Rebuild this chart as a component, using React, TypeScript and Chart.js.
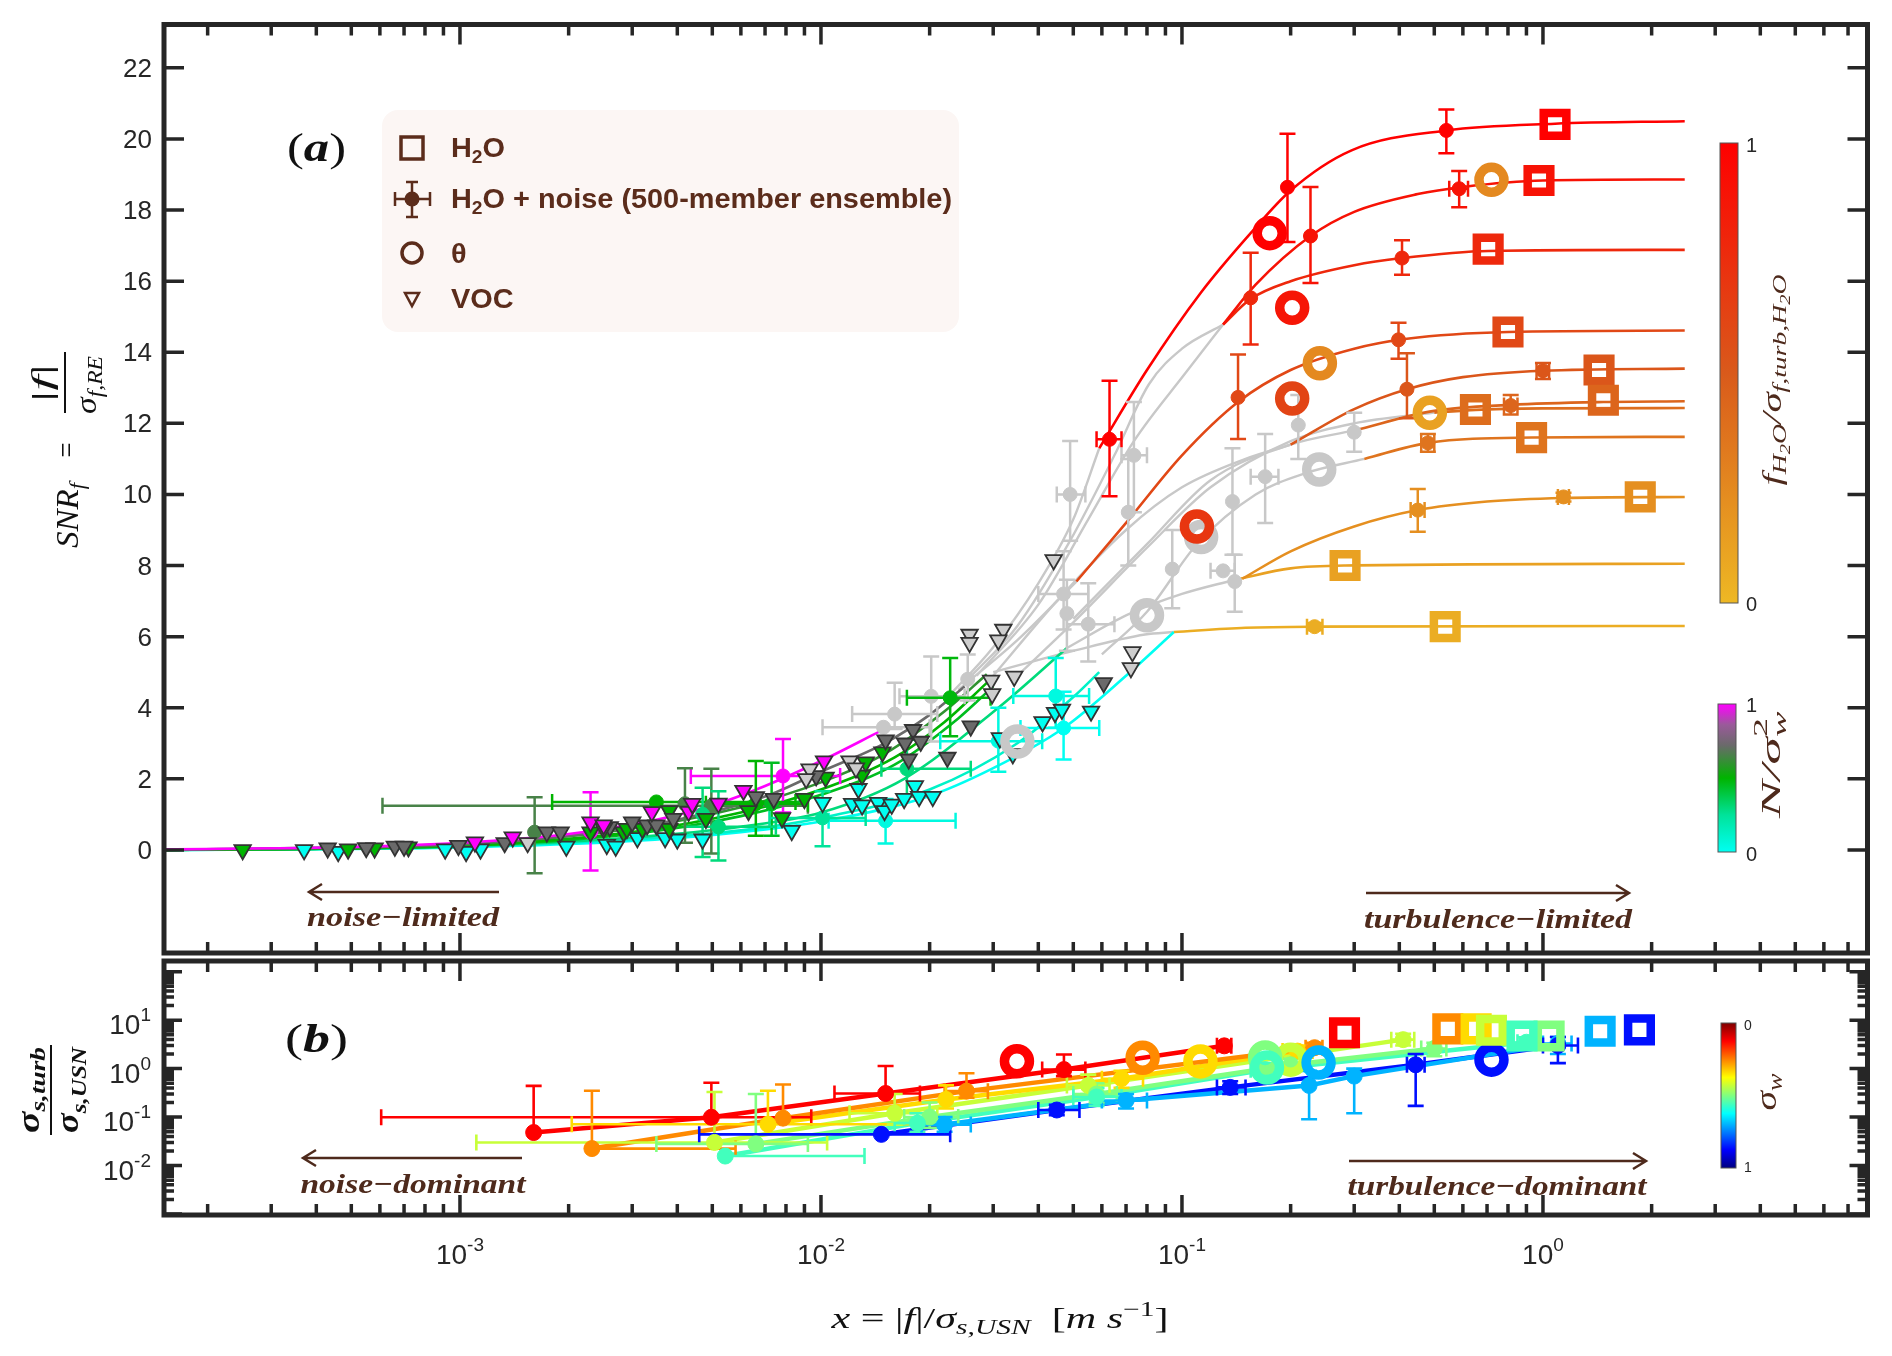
import React, { useEffect, useRef } from "react";
import { Chart, registerables } from "chart.js";

Chart.register(...registerables);

type XY = [number, number];
// [x, y, xlo, xhi, ylo, yhi, colour value]
type Err = [number, number, number | null, number | null, number | null, number | null, number | null];
// [x, y, colour value]
type Mark = [number, number, number | null];

const W = 1892;
const H = 1356;

// axes
const X_MIN = 1.514e-4;
const X_MAX = 7.925;
const YA_MIN = -2.9;
const YA_MAX = 23.22;
const YB_MIN = 9.55e-4;
const YB_MAX = 166;
const Y_TICKS_A = [0, 2, 4, 6, 8, 10, 12, 14, 16, 18, 20, 22];
const X_TICK_EXP = [-3, -2, -1, 0];
const YB_TICK_EXP = [-2, -1, 0, 1];

// ---------- panel (a): H2O fitted curves (colour = f_H2O / sigma_f,turb,H2O)
const H2O_C1: XY[] = [[0.059, 11.3], [0.08, 13.5], [0.1125, 15.66], [0.155, 17.35], [0.2, 18.55], [0.295, 19.68], [0.54, 20.24], [1.08, 20.43], [2.47, 20.5]];
const H2O_C2: XY[] = [[0.13, 14.78], [0.16, 15.9], [0.227, 17.27], [0.3, 17.95], [0.45, 18.45], [0.6, 18.65], [1.0, 18.83], [2.47, 18.86]];
const H2O_C3: XY[] = [[0.13, 14.78], [0.155, 15.5], [0.2, 16.0], [0.3, 16.45], [0.407, 16.65], [0.705, 16.85], [2.47, 16.88]];
const H2O_C4: XY[] = [[0.051, 7.55], [0.07, 9.2], [0.1, 11.1], [0.143, 12.6], [0.2, 13.5], [0.3, 14.1], [0.42, 14.38], [0.8, 14.57], [2.47, 14.61]];
const H2O_C5: XY[] = [[0.2, 11.4], [0.3, 12.4], [0.42, 12.96], [0.6, 13.3], [1.0, 13.48], [2.47, 13.54]];
const H2O_C6: XY[] = [[0.3, 11.8], [0.5, 12.35], [0.814, 12.52], [1.47, 12.6], [2.47, 12.62]];
const H2O_C7: XY[] = [[0.5, 12.3], [0.65, 12.38], [1.0, 12.42], [2.47, 12.43]];
const H2O_C8: XY[] = [[0.32, 11.0], [0.48, 11.45], [0.93, 11.6], [2.47, 11.62]];
const H2O_C9: XY[] = [[0.147, 7.63], [0.2, 8.4], [0.3, 9.1], [0.45, 9.56], [0.7, 9.8], [1.14, 9.9], [2.47, 9.93]];
const H2O_C10: XY[] = [[0.14, 7.6], [0.2, 7.92], [0.283, 8.0], [2.47, 8.05]];
const H2O_C11: XY[] = [[0.095, 6.13], [0.15, 6.25], [0.233, 6.28], [2.47, 6.3]];
const H2O_LEVEL = [1.0, 0.9, 0.78, 0.6, 0.52, 0.44, 0.4, 0.36, 0.22, 0.12, 0.06];

const H2O_SQUARES: Mark[] = [
  [1.08, 20.41, 1.0], [0.975, 18.83, 0.9], [0.705, 16.9, 0.78], [0.8, 14.57, 0.6], [1.43, 13.5, 0.52],
  [1.47, 12.65, 0.44], [0.65, 12.39, 0.4], [0.93, 11.6, 0.36], [1.86, 9.93, 0.22], [0.283, 8.0, 0.12], [0.536, 6.28, 0.06],
];

const H2O_NOISE: Err[] = [
  [0.063, 11.55, 0.058, 0.068, 9.95, 13.2, 1.0], [0.196, 18.64, null, null, 17.1, 20.15, 1.0], [0.54, 20.24, null, null, 19.6, 20.83, 1.0],
  [0.227, 17.27, null, null, 15.95, 18.65, 0.9], [0.586, 18.6, 0.55, 0.62, 18.08, 19.1, 0.9],
  [0.155, 15.53, null, null, 14.22, 16.8, 0.78], [0.407, 16.65, null, null, 16.18, 17.15, 0.78],
  [0.143, 12.73, null, null, 11.56, 13.94, 0.6], [0.398, 14.35, null, null, 13.82, 14.83, 0.6],
  [0.42, 12.96, null, null, 12.14, 13.97, 0.52], [1.0, 13.48, 0.96, 1.04, 13.25, 13.7, 0.52],
  [0.814, 12.5, 0.78, 0.85, 12.25, 12.8, 0.44], [0.48, 11.45, 0.46, 0.5, 11.2, 11.7, 0.36],
  [0.45, 9.56, 0.43, 0.47, 8.95, 10.15, 0.22], [1.14, 9.93, 1.1, 1.18, 9.8, 10.05, 0.22],
  [0.233, 6.28, 0.222, 0.245, 6.18, 6.38, 0.06],
];

const THETA_A: Mark[] = [
  [0.175, 17.35, 1.0], [0.202, 15.25, 0.88], [0.72, 18.85, 0.25], [0.241, 13.69, 0.25],
  [0.202, 12.7, 0.62], [0.486, 12.3, 0.12], [0.11, 9.1, 0.7],
];

// grey transition curves and grey points
const GRAY_C1: XY[] = [[0.022, 4.2], [0.03, 5.7], [0.04, 7.5], [0.05, 9.3], [0.059, 11.3]];
const GRAY_C2: XY[] = [[0.025, 4.7], [0.035, 6.3], [0.049, 8.7], [0.065, 11.1], [0.081, 13.1], [0.1, 14.1], [0.13, 14.78]];
const GRAY_C3: XY[] = [[0.027, 4.9], [0.04, 6.9], [0.055, 9.3], [0.0736, 11.5], [0.102, 13.4], [0.13, 14.78]];
const GRAY_C4: XY[] = [[0.024, 4.5], [0.035, 5.9], [0.051, 7.55]];
const GRAY_C5: XY[] = [[0.03, 4.9], [0.045, 7.0], [0.07, 9.0], [0.1, 10.2], [0.15, 11.0], [0.2, 11.4]];
const GRAY_C6: XY[] = [[0.035, 4.9], [0.05, 6.4], [0.08, 8.5], [0.12, 10.2], [0.2, 11.5], [0.3, 12.0], [0.5, 12.3]];
const GRAY_C7: XY[] = [[0.03, 5.0], [0.05, 5.6], [0.079, 6.06], [0.095, 6.13]];
const GRAY_C8: XY[] = [[0.048, 5.68], [0.07, 6.6], [0.1, 7.2], [0.14, 7.6]];
const GRAY_C9: XY[] = [[0.06, 5.5], [0.08, 6.7], [0.11, 8.6], [0.16, 10.0], [0.22, 10.6], [0.32, 11.0]];
const GRAY_C10: XY[] = [[0.05, 6.5], [0.08, 8.6], [0.12, 10.4], [0.2, 11.4], [0.3, 11.8]];

const GRAY_NOISE: Err[] = [
  [0.049, 10.0, 0.045, 0.054, 8.7, 11.5, null], [0.0736, 11.1, 0.068, 0.08, 9.5, 12.6, null], [0.071, 9.5, null, null, 8.0, 11.0, null],
  [0.047, 7.2, 0.04, 0.055, 6.2, 8.4, null], [0.048, 6.65, null, null, 5.6, 7.6, null], [0.055, 6.35, 0.048, 0.065, 5.3, 7.5, null],
  [0.094, 7.9, null, null, 6.8, 9.0, null], [0.138, 9.8, null, null, 8.3, 11.3, null], [0.17, 10.5, 0.155, 0.185, 9.2, 11.7, null],
  [0.21, 11.95, null, null, 11.0, 12.8, null], [0.3, 11.75, null, null, 11.2, 12.3, null], [0.14, 7.55, null, null, 6.7, 8.3, null],
  [0.13, 7.85, 0.12, 0.14, null, null, null], [0.0202, 4.32, 0.0165, 0.025, 3.05, 5.44, null], [0.016, 3.82, 0.0122, 0.021, 3.4, 4.7, null],
  [0.0149, 3.45, 0.0101, 0.02, null, null, null], [0.0255, 4.8, null, null, 4.2, 5.5, null],
];
const GRAY_THETA: Mark[] = [[0.035, 3.05, null], [0.08, 6.6, null], [0.113, 8.8, null], [0.24, 10.7, null]];

// VOC curves (colour = N / sigma_w^2)
const VOC_C1: XY[] = [[1.514e-4, 0.02], [5e-4, 0.08], [1e-3, 0.2], [2e-3, 0.45], [3.5e-3, 0.85], [5e-3, 1.25], [7e-3, 1.8], [0.01, 2.5], [0.0146, 3.34]];
const VOC_C2: XY[] = [[1.514e-4, 0], [1e-3, 0.17], [2e-3, 0.4], [4e-3, 0.85], [7e-3, 1.5], [0.01, 2.2], [0.015, 3.0], [0.02, 3.8], [0.025, 4.6]];
const VOC_C3: XY[] = [[1.514e-4, 0], [1e-3, 0.15], [3e-3, 0.6], [6e-3, 1.2], [0.01, 1.9], [0.015, 2.7], [0.022, 3.9], [0.0288, 4.94]];
const VOC_C4: XY[] = [[1.514e-4, 0], [1e-3, 0.12], [3e-3, 0.5], [6e-3, 1.05], [0.01, 1.7], [0.016, 2.6], [0.022, 3.6], [0.0288, 4.7]];
const VOC_C5: XY[] = [[1.514e-4, 0], [1e-3, 0.11], [3e-3, 0.45], [6e-3, 0.95], [0.01, 1.55], [0.016, 2.4], [0.024, 3.7], [0.03, 4.6]];
const VOC_C6: XY[] = [[1.514e-4, 0], [1e-3, 0.1], [3e-3, 0.35], [6e-3, 0.65], [0.01, 1.05], [0.017, 2.0], [0.031, 4.0], [0.048, 5.68]];
const VOC_C7: XY[] = [[1.514e-4, 0], [1e-3, 0.08], [3e-3, 0.3], [6e-3, 0.55], [0.01, 0.9], [0.02, 1.7], [0.035, 3.0], [0.05, 4.3], [0.059, 5.0]];
const VOC_C8: XY[] = [[1.514e-4, 0], [1e-3, 0.07], [3e-3, 0.25], [6e-3, 0.5], [0.01, 0.8], [0.0195, 1.48], [0.03, 2.3], [0.047, 3.43], [0.07, 4.9], [0.095, 6.13]];
const VOC_LEVEL = [1.0, 0.72, 0.6, 0.5, 0.45, 0.3, 0.12, 0.0];

const VOC_NOISE: Err[] = [
  [0.0228, 4.28, 0.0173, 0.0295, 3.2, 5.4, 0.48], [0.00785, 2.08, 0.00436, 0.0113, 1.05, 3.12, 1.0],
  [0.0023, 0.5, null, null, -0.58, 1.62, 1.0], [0.00161, 0.5, null, null, -0.66, 1.48, 0.65],
  [0.00497, 1.24, 0.00061, 0.0092, -0.1, 2.28, 0.65], [0.0035, 1.35, 0.0018, 0.0085, null, null, 0.5],
  [0.0066, 1.3, 0.0048, 0.0092, 0.4, 2.5, 0.5], [0.0073, 1.3, null, null, 0.4, 2.45, 0.45],
  [0.0052, 0.65, 0.0042, 0.0075, -0.3, 1.65, 0.3], [0.0173, 2.28, 0.0147, 0.026, 1.5, 3.1, 0.3],
  [0.0447, 4.33, 0.0341, 0.0553, 3.44, 5.4, 0.05], [0.047, 3.43, 0.0357, 0.059, 2.54, 4.45, 0.0],
  [0.031, 3.06, 0.0214, 0.041, 2.2, 4.0, 0.05], [0.0151, 0.82, 0.0105, 0.0236, 0.18, 1.43, 0.05],
  [0.0101, 0.9, 0.0072, 0.0133, 0.1, 1.65, 0.25], [0.0042, 1.3, null, null, 0.2, 2.3, 0.65],
  [0.0047, 1.0, null, null, -0.2, 1.75, 0.3],
];

const VOC_TRI: Mark[] = [
  [3.7e-4, 0.0, 0], [4.6e-4, -0.05, 0], [9.1e-4, 0.02, 0], [1.04e-3, -0.05, 0], [1.14e-3, 0.02, 0], [1.97e-3, 0.1, 0],
  [2.55e-3, 0.15, 0], [2.7e-3, 0.1, 0], [4.0e-3, 0.3, 0], [4.7e-3, 0.3, 0], [0.0031, 0.34, 0], [0.0037, 0.34, 0],
  [0.0083, 0.54, 0], [0.0101, 1.33, 0], [0.0122, 1.3, 0], [0.013, 1.26, 0], [0.0127, 1.72, 0], [0.0144, 1.33, 0],
  [0.015, 1.1, 0], [0.0157, 1.28, 0], [0.017, 1.44, 0], [0.0182, 1.8, 0], [0.0187, 1.5, 0], [0.0204, 1.5, 0],
  [0.0313, 3.15, 0], [0.034, 2.7, 0], [0.0411, 3.6, 0], [0.0445, 3.86, 0], [0.0465, 3.95, 0], [0.056, 3.9, 0],
  [2.5e-4, 0.0, 0.5], [4.9e-4, 0.02, 0.5], [5.8e-4, 0.05, 0.5], [7.2e-4, 0.08, 0.5], [2.3e-3, 0.5, 0.5],
  [2.84e-3, 0.5, 0.5], [3.2e-3, 0.6, 0.5], [3.8e-3, 0.6, 0.5], [4.8e-3, 0.88, 0.5], [0.0029, 0.6, 0.5],
  [0.0038, 1.1, 0.5], [0.0063, 1.1, 0.5], [0.0078, 0.9, 0.5], [0.009, 1.44, 0.5], [0.0103, 2.04, 0.5],
  [0.013, 2.1, 0.5], [0.0133, 2.47, 0.5], [0.0148, 2.75, 0.5],
  [4.3e-4, 0.05, 0.72], [5.5e-4, 0.06, 0.72], [6.6e-4, 0.1, 0.72], [7.0e-4, 0.1, 0.72], [9.9e-4, 0.12, 0.72],
  [1.33e-3, 0.2, 0.72], [1.74e-3, 0.5, 0.72], [1.9e-3, 0.5, 0.72], [2.6e-3, 0.65, 0.72], [3.0e-3, 0.78, 0.72],
  [3.3e-3, 0.7, 0.72], [3.5e-3, 0.7, 0.72], [3.9e-3, 0.88, 0.72], [0.0025, 0.6, 0.72], [0.0066, 1.49, 0.72],
  [0.0074, 1.44, 0.72], [0.0097, 2.08, 0.72], [0.0151, 3.09, 0.72], [0.0171, 3.0, 0.72], [0.0175, 2.55, 0.72],
  [0.018, 3.38, 0.72], [0.0189, 3.05, 0.72], [0.0224, 2.6, 0.72], [0.026, 3.48, 0.72], [0.0607, 4.7, 0.72],
  [1.1e-3, 0.22, 1], [1.4e-3, 0.36, 1], [2.3e-3, 0.78, 1], [2.5e-3, 0.7, 1], [4.3e-3, 1.08, 1],
  [5.2e-3, 1.31, 1], [0.0034, 1.07, 1], [0.0044, 1.3, 1], [0.0061, 1.67, 1], [0.0102, 2.5, 1],
  [1.54e-3, 0.2, null], [0.0093, 2.27, null], [0.0091, 2.0, null], [0.012, 2.5, null], [0.0125, 2.3, null],
  [0.0258, 6.06, null], [0.0258, 5.83, null], [0.032, 6.2, null], [0.031, 5.9, null], [0.0296, 4.77, null],
  [0.0343, 4.88, null], [0.0298, 4.39, null], [0.0729, 5.57, null], [0.0722, 5.12, null], [0.0441, 8.16, null],
];

// ---------- panel (b): sigma_s,turb / sigma_s,USN (colour = sigma_w)
const B_LEVELS = [0.125, 0.26, 0.34, 0.43, 0.5, 0.56, 0.7, 0.86];
const B_NOISE: Err[] = [
  [0.0016, 0.048, null, null, null, 0.44, 0.125], [0.00497, 0.099, 0.000605, 0.0094, null, 0.51, 0.125],
  [0.0151, 0.307, 0.0109, 0.0188, null, 1.13, 0.125], [0.0471, 0.955, 0.041, 0.054, 0.7, 1.96, 0.125],
  [0.131, 2.95, 0.125, 0.137, 2.3, 3.6, 0.125],
  [0.00232, 0.0224, null, 0.0058, null, 0.35, 0.26], [0.00785, 0.095, null, null, null, 0.47, 0.26],
  [0.0253, 0.343, 0.022, 0.029, 0.25, 0.8, 0.26], [0.233, 2.7, 0.22, 0.245, 2.1, 3.4, 0.26],
  [0.00713, 0.071, 0.00204, 0.022, null, 0.35, 0.34], [0.0222, 0.231, null, null, 0.15, 0.45, 0.34],
  [0.068, 0.62, 0.06, 0.078, 0.4, 0.9, 0.34], [0.209, 2.3, 0.19, 0.23, 1.7, 3.0, 0.34],
  [0.00507, 0.03, 0.00111, 0.0104, null, 0.33, 0.43], [0.016, 0.12, 0.012, 0.021, 0.07, 0.3, 0.43],
  [0.055, 0.45, 0.048, 0.063, 0.3, 0.75, 0.43], [0.41, 3.96, 0.38, 0.44, 3.0, 5.2, 0.43],
  [0.0066, 0.028, 0.0035, 0.0092, null, 0.3, 0.5], [0.02, 0.1, 0.017, 0.024, 0.06, 0.2, 0.5],
  [0.058, 0.3, 0.05, 0.066, 0.2, 0.5, 0.5], [0.2, 1.2, 0.18, 0.22, 0.8, 1.6, 0.5], [0.5, 2.6, 0.46, 0.54, 1.8, 3.4, 0.5],
  [0.00543, 0.0157, 0.00543, 0.0132, null, null, 0.56], [0.0185, 0.075, 0.016, 0.022, 0.05, 0.12, 0.56],
  [0.058, 0.26, 0.05, 0.068, 0.17, 0.4, 0.56], [0.17, 0.95, 0.155, 0.185, 0.6, 1.3, 0.56], [0.9, 3.5, 0.85, 0.95, 2.6, 4.4, 0.56],
  [0.022, 0.07, 0.019, 0.026, 0.05, 0.1, 0.7], [0.07, 0.22, 0.06, 0.08, 0.15, 0.3, 0.7],
  [0.225, 0.45, null, null, 0.09, 0.9, 0.7], [0.3, 0.7, null, null, 0.12, 1.0, 0.7], [1.1, 3.3, 1.0, 1.2, 2.0, 4.5, 0.7],
  [0.0147, 0.044, 0.0046, 0.0228, null, null, 0.86], [0.045, 0.14, 0.04, 0.052, 0.11, 0.18, 0.86],
  [0.136, 0.41, 0.125, 0.15, 0.3, 0.55, 0.86], [0.444, 1.2, 0.42, 0.47, 0.17, 2.0, 0.86], [1.1, 3.0, 1.0, 1.25, 1.3, 4.5, 0.86],
];
const B_THETA: Mark[] = [
  [0.0349, 1.42, 0.125], [0.0778, 1.68, 0.26], [0.1125, 1.41, 0.34], [0.2, 1.53, 0.43],
  [0.17, 1.7, 0.5], [0.172, 1.05, 0.56], [0.239, 1.33, 0.7], [0.72, 1.53, 0.86],
];
const B_SQUARES: Mark[] = [
  [0.282, 5.5, 0.125], [0.545, 6.6, 0.26], [0.653, 6.6, 0.34], [0.72, 6.2, 0.43],
  [1.04, 4.7, 0.5], [0.875, 4.7, 0.56], [1.44, 5.9, 0.7], [1.85, 6.3, 0.86],
];

// ---------- colours
const SANS = "'Liberation Sans', Arial, sans-serif";
const SERIF = "'Liberation Serif', 'Times New Roman', serif";
const INK = "#262626";
const BROWN = "#4e2a1c";
const GRAY = "#c8c8c8";
const H2O_STOPS: [number, string][] = [[0, "#eeb824"], [0.5, "#d95a1b"], [1, "#ff0000"]];
const N_STOPS: [number, string][] = [[0, "#00fff2"], [0.25, "#00e39a"], [0.5, "#00b400"], [0.72, "#6a6a6a"], [0.86, "#9a5a9a"], [1, "#ff00ff"]];

const clamp = (v: number) => Math.max(0, Math.min(1, v));
const hex = (h: string) => {
  const n = parseInt(h.slice(1), 16);
  return [(n >> 16) & 255, (n >> 8) & 255, n & 255];
};
function ramp(stops: [number, string][], t: number) {
  t = clamp(t);
  for (let i = 0; i < stops.length - 1; i++) {
    const [t0, c0] = stops[i];
    const [t1, c1] = stops[i + 1];
    if (t <= t1) {
      const f = (t - t0) / (t1 - t0);
      const a = hex(c0), b = hex(c1);
      return `rgb(${a.map((v, k) => Math.round(v + (b[k] - v) * f)).join(",")})`;
    }
  }
  return stops[stops.length - 1][1];
}
const h2oColor = (v: number | null) => (v == null ? GRAY : ramp(H2O_STOPS, v));
const nColor = (v: number | null) => (v == null ? "#cdcdcd" : ramp(N_STOPS, v));
function jet(s: number) {
  const t = 1 - s;
  const r = clamp(1.5 - Math.abs(4 * t - 3));
  const g = clamp(1.5 - Math.abs(4 * t - 2));
  const b = clamp(1.5 - Math.abs(4 * t - 1));
  return `rgb(${Math.round(r * 255)},${Math.round(g * 255)},${Math.round(b * 255)})`;
}

// ---------- dataset helpers
const pts = (arr: { 0: number; 1: number }[]) => arr.map((p) => ({ x: p[0], y: p[1] }));

function curve(data: XY[], color: string, width: number, order: number, smooth = true): any {
  return {
    type: "line", data: pts(data), borderColor: color, borderWidth: width, pointRadius: 0,
    fill: false, cubicInterpolationMode: smooth ? "monotone" : "default", tension: 0, order,
  };
}
function errDots(data: Err[], col: (v: number | null) => string, order: number, r: number, ew: number, cap: number): any {
  const colors = data.map((e) => col(e[6]));
  return {
    type: "line", showLine: false, data: pts(data), pointStyle: "circle", pointRadius: r,
    pointBackgroundColor: colors, pointBorderColor: colors, pointBorderWidth: 1, order,
    errorBars: data, errColors: colors, errWidth: ew, capHalf: cap,
  };
}
function rings(data: Mark[], col: (v: number | null) => string, order: number): any {
  return {
    type: "line", showLine: false, data: pts(data), pointStyle: "circle", pointRadius: 12.5,
    pointBorderWidth: 9.5, pointBackgroundColor: "rgba(0,0,0,0)", pointBorderColor: data.map((m) => col(m[2])), order,
  };
}
function boxes(data: Mark[], col: (v: number | null) => string, order: number): any {
  return {
    type: "line", showLine: false, data: pts(data), pointStyle: "rect", pointRadius: 16,
    pointBorderWidth: 8.5, pointBackgroundColor: "rgba(0,0,0,0)", pointBorderColor: data.map((m) => col(m[2])), order,
  };
}
function triangles(data: Mark[], order: number): any {
  return {
    type: "line", showLine: false, data: pts(data), pointStyle: "triangle", pointRotation: 180, pointRadius: 9.5,
    pointBorderWidth: 1.8, pointBorderColor: "#333333", pointBackgroundColor: data.map((m) => nColor(m[2])), order,
  };
}

// ---------- drawing helpers
type Seg = { t: string; f: string; dy?: number; stack?: boolean };
function drawSegs(ctx: CanvasRenderingContext2D, segs: Seg[], x: number, y: number, align: string, target?: number) {
  ctx.textAlign = "left";
  ctx.textBaseline = "alphabetic";
  const ws = segs.map((s) => { ctx.font = s.f; return ctx.measureText(s.t).width; });
  let total = 0;
  segs.forEach((s, i) => { if (!s.stack) total += ws[i]; });
  const k = target ? target / total : 1;
  ctx.save();
  ctx.translate(x, y);
  ctx.scale(k, 1);
  let cx = align === "center" ? -total / 2 : align === "right" ? -total : 0;
  segs.forEach((s, i) => {
    ctx.font = s.f;
    ctx.fillText(s.t, cx, s.dy || 0);
    if (!s.stack) cx += ws[i];
  });
  ctx.restore();
}
function rotated(ctx: CanvasRenderingContext2D, x: number, y: number, fn: () => void) {
  ctx.save();
  ctx.translate(x, y);
  ctx.rotate(-Math.PI / 2);
  fn();
  ctx.restore();
}
function seg(ctx: CanvasRenderingContext2D, x1: number, y1: number, x2: number, y2: number) {
  ctx.moveTo(x1, y1);
  ctx.lineTo(x2, y2);
}
function arrow(ctx: CanvasRenderingContext2D, tail: number, y: number, tip: number) {
  const d = Math.sign(tip - tail);
  ctx.save();
  ctx.strokeStyle = BROWN;
  ctx.lineWidth = 2.5;
  ctx.beginPath();
  seg(ctx, tail, y, tip, y);
  ctx.moveTo(tip - d * 13, y - 8);
  ctx.lineTo(tip, y);
  ctx.lineTo(tip - d * 13, y + 8);
  ctx.stroke();
  ctx.restore();
}
function logTicks(min: number, max: number) {
  const major: number[] = [], minor: number[] = [];
  for (let e = Math.floor(Math.log10(min)); e <= Math.ceil(Math.log10(max)); e++) {
    for (let m = 1; m < 10; m++) {
      const v = m * Math.pow(10, e);
      if (v < min || v > max) continue;
      (m === 1 ? major : minor).push(v);
    }
  }
  return { major, minor };
}
function frame(ctx: CanvasRenderingContext2D, a: any) {
  ctx.strokeStyle = INK;
  ctx.lineWidth = 5;
  ctx.strokeRect(a.left, a.top, a.right - a.left, a.bottom - a.top);
}
function xTicks(ctx: CanvasRenderingContext2D, xs: any, a: any) {
  const { major, minor } = logTicks(X_MIN, X_MAX);
  ctx.strokeStyle = INK;
  ctx.lineWidth = 3.5;
  ctx.beginPath();
  major.forEach((v) => { const p = xs.getPixelForValue(v); seg(ctx, p, a.top, p, a.top + 20); seg(ctx, p, a.bottom, p, a.bottom - 20); });
  minor.forEach((v) => { const p = xs.getPixelForValue(v); seg(ctx, p, a.top, p, a.top + 11); seg(ctx, p, a.bottom, p, a.bottom - 11); });
  ctx.stroke();
}
function colorbar(ctx: CanvasRenderingContext2D, x: number, top: number, w: number, h: number, stops: [number, string][]) {
  const g = ctx.createLinearGradient(0, top + h, 0, top);
  stops.forEach(([t, c]) => g.addColorStop(t, c));
  ctx.fillStyle = g;
  ctx.fillRect(x, top, w, h);
  ctx.strokeStyle = "#555555";
  ctx.lineWidth = 1;
  ctx.strokeRect(x, top, w, h);
}

const errorBarPlugin = {
  id: "errorBars",
  beforeDatasetDraw(chart: any, args: any) {
    const ds = chart.data.datasets[args.index];
    if (!ds.errorBars) return;
    const { ctx, chartArea: a } = chart;
    const xs = chart.scales.x, ys = chart.scales.y;
    ctx.save();
    ctx.beginPath();
    ctx.rect(a.left, a.top, a.right - a.left, a.bottom - a.top);
    ctx.clip();
    ctx.lineWidth = ds.errWidth;
    const c = ds.capHalf;
    ds.errorBars.forEach((e: Err, i: number) => {
      const [x, y, xl, xh, yl, yh] = e;
      const px = xs.getPixelForValue(x), py = ys.getPixelForValue(y);
      ctx.strokeStyle = ds.errColors[i];
      ctx.beginPath();
      if (yl != null || yh != null) {
        const t = ys.getPixelForValue(yh ?? y), b = ys.getPixelForValue(yl ?? y);
        seg(ctx, px, t, px, b);
        if (yh != null) seg(ctx, px - c, t, px + c, t);
        if (yl != null) seg(ctx, px - c, b, px + c, b);
      }
      if (xl != null || xh != null) {
        const l = xs.getPixelForValue(xl ?? x), r = xs.getPixelForValue(xh ?? x);
        seg(ctx, l, py, r, py);
        if (xl != null) seg(ctx, l, py - c, l, py + c);
        if (xh != null) seg(ctx, r, py - c, r, py + c);
      }
      ctx.stroke();
    });
    ctx.restore();
  },
};

const panelAPlugin = {
  id: "panelA",
  afterDraw(chart: any) {
    const { ctx, chartArea: a } = chart;
    const xs = chart.scales.x, ys = chart.scales.y;
    ctx.save();
    xTicks(ctx, xs, a);
    ctx.beginPath();
    Y_TICKS_A.forEach((v) => { const p = ys.getPixelForValue(v); seg(ctx, a.left, p, a.left + 20, p); seg(ctx, a.right, p, a.right - 20, p); });
    ctx.stroke();
    frame(ctx, a);

    ctx.fillStyle = INK;
    ctx.font = `26px ${SANS}`;
    ctx.textAlign = "right";
    ctx.textBaseline = "alphabetic";
    Y_TICKS_A.forEach((v) => ctx.fillText(String(v), 152, ys.getPixelForValue(v) + 9));

    // y title
    ctx.fillStyle = "#111111";
    ctx.strokeStyle = "#111111";
    rotated(ctx, 78, 550, () => {
      drawSegs(ctx, [{ t: "SNR", f: `italic 32px ${SERIF}` }, { t: "f", f: `italic 22px ${SERIF}`, dy: 6 }], 2, 0, "left", 65);
      drawSegs(ctx, [{ t: "=", f: `32px ${SERIF}` }], 100, -1, "center", 15);
      ctx.lineWidth = 2;
      ctx.beginPath();
      seg(ctx, 137, -13, 198, -13);
      ctx.stroke();
      drawSegs(ctx, [{ t: "|", f: `30px ${SERIF}` }, { t: "f", f: `italic 30px ${SERIF}` }, { t: "|", f: `30px ${SERIF}` }], 167, -26, "center", 38);
      drawSegs(ctx, [{ t: "σ", f: `italic 30px ${SERIF}` }, { t: "f,RE", f: `italic 21px ${SERIF}`, dy: 6 }], 165, 18, "center", 58);
    });

    // panel letter
    drawSegs(ctx, [{ t: "(", f: `40px ${SERIF}` }, { t: "a", f: `italic bold 40px ${SERIF}` }, { t: ")", f: `40px ${SERIF}` }], 287, 161, "left", 59);

    // legend
    const lx = 382, ly = 110, lw = 577, lh = 222, rr = 16;
    ctx.fillStyle = "#fcf6f4";
    ctx.beginPath();
    ctx.moveTo(lx + rr, ly);
    ctx.arcTo(lx + lw, ly, lx + lw, ly + lh, rr);
    ctx.arcTo(lx + lw, ly + lh, lx, ly + lh, rr);
    ctx.arcTo(lx, ly + lh, lx, ly, rr);
    ctx.arcTo(lx, ly, lx + lw, ly, rr);
    ctx.closePath();
    ctx.fill();
    const LB = "#5b2c1b";
    ctx.strokeStyle = LB;
    ctx.fillStyle = LB;
    ctx.lineWidth = 3.5;
    ctx.strokeRect(401, 137, 22, 22);
    ctx.lineWidth = 2.5;
    ctx.beginPath();
    seg(ctx, 395, 199, 430, 199); seg(ctx, 395, 192, 395, 206); seg(ctx, 430, 192, 430, 206);
    seg(ctx, 412, 182, 412, 217); seg(ctx, 406, 182, 418, 182); seg(ctx, 406, 217, 418, 217);
    ctx.stroke();
    ctx.beginPath(); ctx.arc(412, 199, 7.5, 0, Math.PI * 2); ctx.fill();
    ctx.lineWidth = 3.5;
    ctx.beginPath(); ctx.arc(412, 253, 10, 0, Math.PI * 2); ctx.stroke();
    ctx.lineWidth = 2.5;
    ctx.beginPath(); ctx.moveTo(405, 293); ctx.lineTo(419, 293); ctx.lineTo(412, 306); ctx.closePath(); ctx.stroke();
    const LF = `bold 27px ${SANS}`, LS = `bold 18px ${SANS}`;
    const longLine: Seg[] = [{ t: "H", f: LF }, { t: "2", f: LS, dy: 6 }, { t: "O + noise (500-member ensemble)", f: LF }];
    const wsum = (s: Seg[]) => s.reduce((acc, q) => { ctx.font = q.f; return acc + ctx.measureText(q.t).width; }, 0);
    const k = 501 / wsum(longLine);
    const lines: [Seg[], number][] = [
      [[{ t: "H", f: LF }, { t: "2", f: LS, dy: 6 }, { t: "O", f: LF }], 157],
      [longLine, 208],
      [[{ t: "θ", f: LF }], 263],
      [[{ t: "VOC", f: LF }], 308],
    ];
    lines.forEach(([s, y]) => drawSegs(ctx, s, 451, y, "left", wsum(s) * k));

    // annotations
    arrow(ctx, 499, 892, 309);
    arrow(ctx, 1366, 893, 1629);
    ctx.fillStyle = BROWN;
    drawSegs(ctx, [{ t: "noise−limited", f: `italic bold 28px ${SERIF}` }], 403, 926, "center", 192);
    drawSegs(ctx, [{ t: "turbulence−limited", f: `italic bold 28px ${SERIF}` }], 1498, 928, "center", 268);

    // colour bars
    colorbar(ctx, 1720, 143, 18, 460, H2O_STOPS);
    colorbar(ctx, 1718, 704, 18, 148, N_STOPS);
    ctx.fillStyle = INK;
    ctx.font = `20px ${SANS}`;
    ctx.textAlign = "left";
    ctx.textBaseline = "middle";
    ctx.fillText("1", 1746, 146);
    ctx.fillText("0", 1746, 605);
    ctx.fillText("1", 1746, 706);
    ctx.fillText("0", 1746, 855);
    ctx.fillStyle = BROWN;
    rotated(ctx, 1781, 380, () => {
      drawSegs(ctx, [
        { t: "f", f: `italic 28px ${SERIF}` }, { t: "H", f: `italic 19px ${SERIF}`, dy: 5 }, { t: "2", f: `italic 14px ${SERIF}`, dy: 9 },
        { t: "O", f: `italic 19px ${SERIF}`, dy: 5 }, { t: "/σ", f: `italic 28px ${SERIF}` }, { t: "f,turb,H", f: `italic 19px ${SERIF}`, dy: 5 },
        { t: "2", f: `italic 14px ${SERIF}`, dy: 9 }, { t: "O", f: `italic 19px ${SERIF}`, dy: 5 },
      ], 0, 0, "center", 211);
    });
    rotated(ctx, 1780, 768, () => {
      drawSegs(ctx, [
        { t: "N/σ", f: `italic 28px ${SERIF}` }, { t: "w", f: `italic 19px ${SERIF}`, dy: 6, stack: true }, { t: "2", f: `19px ${SERIF}`, dy: -13 },
      ], 0, 0, "center", 100);
    });
    ctx.restore();
  },
};

const panelBPlugin = {
  id: "panelB",
  afterDraw(chart: any) {
    const { ctx, chartArea: a } = chart;
    const xs = chart.scales.x, ys = chart.scales.y;
    ctx.save();
    xTicks(ctx, xs, a);
    const { major, minor } = logTicks(YB_MIN, YB_MAX);
    ctx.beginPath();
    major.forEach((v) => { const p = ys.getPixelForValue(v); seg(ctx, a.left, p, a.left + 18, p); seg(ctx, a.right, p, a.right - 18, p); });
    minor.forEach((v) => { const p = ys.getPixelForValue(v); seg(ctx, a.left, p, a.left + 10, p); seg(ctx, a.right, p, a.right - 10, p); });
    ctx.stroke();
    frame(ctx, a);

    ctx.fillStyle = INK;
    const TF = `28px ${SANS}`, EF = `19px ${SANS}`;
    X_TICK_EXP.forEach((e) => {
      const p = xs.getPixelForValue(Math.pow(10, e));
      drawSegs(ctx, [{ t: "10", f: TF }, { t: String(e), f: EF, dy: -13 }], p, 1264, "center");
    });
    YB_TICK_EXP.forEach((e) => {
      const p = ys.getPixelForValue(Math.pow(10, e));
      drawSegs(ctx, [{ t: "10", f: TF }, { t: String(e), f: EF, dy: -13 }], 151, p + 14, "right");
    });

    // titles
    ctx.fillStyle = "#111111";
    ctx.strokeStyle = "#111111";
    rotated(ctx, 51, 1090, () => {
      ctx.lineWidth = 2;
      ctx.beginPath();
      seg(ctx, -45, 0, 45, 0);
      ctx.stroke();
      drawSegs(ctx, [{ t: "σ", f: `italic bold 32px ${SERIF}` }, { t: "s,turb", f: `italic bold 22px ${SERIF}`, dy: 6 }], 0, -12, "center", 86);
      drawSegs(ctx, [{ t: "σ", f: `italic bold 32px ${SERIF}` }, { t: "s,USN", f: `italic bold 22px ${SERIF}`, dy: 8 }], 0, 27, "center", 86);
    });
    drawSegs(ctx, [
      { t: "x", f: `italic 30px ${SERIF}` }, { t: " = |", f: `30px ${SERIF}` }, { t: "f", f: `italic 30px ${SERIF}` },
      { t: "|/", f: `30px ${SERIF}` }, { t: "σ", f: `italic 30px ${SERIF}` }, { t: "s,USN", f: `italic 21px ${SERIF}`, dy: 6 },
      { t: "  [", f: `30px ${SERIF}` }, { t: "m s", f: `italic 30px ${SERIF}` }, { t: "−1", f: `21px ${SERIF}`, dy: -12 },
      { t: "]", f: `30px ${SERIF}` },
    ], 1000, 1328, "center", 337);
    drawSegs(ctx, [{ t: "(", f: `40px ${SERIF}` }, { t: "b", f: `italic bold 40px ${SERIF}` }, { t: ")", f: `40px ${SERIF}` }], 285, 1052, "left", 63);

    arrow(ctx, 522, 1158, 303);
    arrow(ctx, 1349, 1161, 1646);
    ctx.fillStyle = BROWN;
    drawSegs(ctx, [{ t: "noise−dominant", f: `italic bold 28px ${SERIF}` }], 413, 1193, "center", 225);
    drawSegs(ctx, [{ t: "turbulence−dominant", f: `italic bold 28px ${SERIF}` }], 1497, 1195, "center", 299);

    const jetStops: [number, string][] = [0, 0.125, 0.25, 0.375, 0.5, 0.625, 0.75, 0.875, 1].map((t) => [t, jet(1 - t)] as [number, string]);
    colorbar(ctx, 1721, 1023, 15, 145, jetStops);
    ctx.fillStyle = INK;
    ctx.font = `14px ${SANS}`;
    ctx.textAlign = "left";
    ctx.textBaseline = "middle";
    ctx.fillText("0", 1744, 1026);
    ctx.fillText("1", 1744, 1168);
    ctx.fillStyle = BROWN;
    rotated(ctx, 1776, 1092, () => {
      drawSegs(ctx, [{ t: "σ", f: `italic 30px ${SERIF}` }, { t: "w", f: `italic 20px ${SERIF}`, dy: 6 }], 0, 0, "center", 37);
    });
    ctx.restore();
  },
};

function baseOptions(padding: any, yScale: any): any {
  return {
    animation: false,
    responsive: false,
    maintainAspectRatio: false,
    events: [],
    layout: { padding },
    plugins: { legend: { display: false }, tooltip: { enabled: false } },
    scales: {
      x: { type: "logarithmic", min: X_MIN, max: X_MAX, display: false },
      y: { ...yScale, display: false },
    },
  };
}

function configA(): any {
  const grays = [GRAY_C1, GRAY_C2, GRAY_C3, GRAY_C4, GRAY_C5, GRAY_C6, GRAY_C7, GRAY_C8, GRAY_C9, GRAY_C10];
  const vocs = [VOC_C1, VOC_C2, VOC_C3, VOC_C4, VOC_C5, VOC_C6, VOC_C7, VOC_C8];
  const h2o = [H2O_C1, H2O_C2, H2O_C3, H2O_C4, H2O_C5, H2O_C6, H2O_C7, H2O_C8, H2O_C9, H2O_C10, H2O_C11];
  const datasets = [
    ...grays.map((c) => curve(c, GRAY, 2.4, 30)),
    ...vocs.map((c, i) => curve(c, nColor(VOC_LEVEL[i]), 2.6, 29)),
    ...h2o.map((c, i) => curve(c, h2oColor(H2O_LEVEL[i]), 2.6, 28)),
    errDots(GRAY_NOISE, () => GRAY, 20, 7, 2.5, 8),
    errDots(VOC_NOISE, nColor, 19, 7, 2.5, 8),
    triangles(VOC_TRI, 18),
    rings(GRAY_THETA, () => GRAY, 17),
    errDots(H2O_NOISE, h2oColor, 16, 7, 2.5, 8),
    rings(THETA_A, h2oColor, 15),
    boxes(H2O_SQUARES, h2oColor, 14),
  ];
  return {
    type: "line",
    data: { datasets },
    options: baseOptions({ left: 164, right: W - 1869, top: 21, bottom: H - 953 }, { type: "linear", min: YA_MIN, max: YA_MAX }),
    plugins: [errorBarPlugin, panelAPlugin],
  };
}

function configB(): any {
  const lines = B_LEVELS.map((s) => {
    const rows = B_NOISE.filter((e) => e[6] === s).sort((p, q) => p[0] - q[0]);
    return curve(rows.map((e) => [e[0], e[1]] as XY), jet(s), 4.5, 30, false);
  });
  const datasets = [
    ...lines,
    errDots(B_NOISE, (v) => jet(v ?? 0), 20, 8, 2.6, 8),
    rings(B_THETA, (v) => jet(v ?? 0), 15),
    boxes(B_SQUARES, (v) => jet(v ?? 0), 14),
  ];
  return {
    type: "line",
    data: { datasets },
    options: baseOptions({ left: 164, right: W - 1869, top: 961, bottom: H - 1215 }, { type: "logarithmic", min: YB_MIN, max: YB_MAX }),
    plugins: [errorBarPlugin, panelBPlugin],
  };
}

export default function App() {
  const refA = useRef<HTMLCanvasElement | null>(null);
  const refB = useRef<HTMLCanvasElement | null>(null);

  useEffect(() => {
    document.body.style.margin = "0";
    const charts: Chart[] = [];
    if (refA.current) charts.push(new Chart(refA.current, configA()));
    if (refB.current) charts.push(new Chart(refB.current, configB()));
    return () => charts.forEach((c) => c.destroy());
  }, []);

  const cs: React.CSSProperties = { position: "absolute", left: 0, top: 0, width: W, height: H };
  return (
    <div style={{ position: "relative", width: W, height: H, background: "#ffffff" }}>
      <canvas ref={refA} width={W} height={H} style={cs} />
      <canvas ref={refB} width={W} height={H} style={cs} />
    </div>
  );
}
